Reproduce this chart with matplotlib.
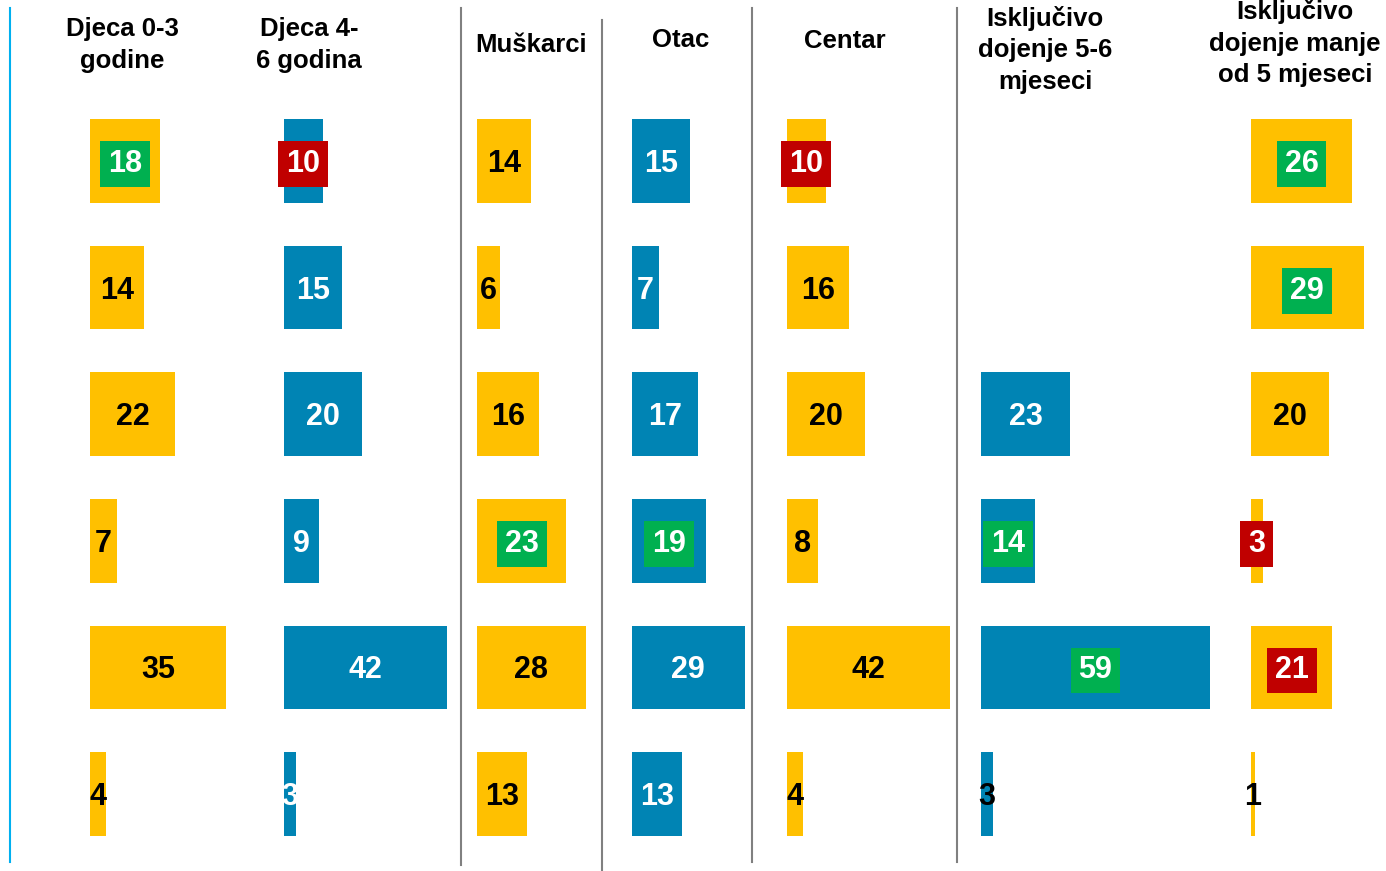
import numpy as np
import matplotlib
matplotlib.use('Agg')
import matplotlib.pyplot as plt
from matplotlib.lines import Line2D

# =========================
# DATA
# =========================
headers = [
    "Djeca 0-3\ngodine",
    "Djeca 4-\n6 godina",
    "Muškarci",
    "Otac",
    "Centar",
    "Isključivo\ndojenje 5-6\nmjeseci",
    "Isključivo\ndojenje manje\nod 5 mjeseci",
]
djeca_0_3 = [18, 14, 22, 7, 35, 4]
djeca_4_6 = [10, 15, 20, 9, 42, 3]
muskarci = [14, 6, 16, 23, 28, 13]
otac = [15, 7, 17, 19, 29, 13]
centar = [10, 16, 20, 8, 42, 4]
dojenje_5_6 = [np.nan, np.nan, 23, 14, 59, 3]
dojenje_manje_5 = [26, 29, 20, 3, 21, 1]

# highlighted labels: (column, row) -> box colour
green_marks = [(0, 0), (2, 3), (3, 3), (5, 3), (5, 4), (6, 0), (6, 1)]
red_marks = [(1, 0), (4, 0), (6, 3), (6, 4)]

# =========================
# STYLE / LAYOUT
# =========================
ORANGE = "#FFC000"
BLUE = "#0084B4"
GREEN = "#00B050"
RED = "#C00000"
FONT = "Liberation Sans"

W, H = 1386, 871
PX_PER_UNIT = 3.88
COL_W = 240

series = [djeca_0_3, djeca_4_6, muskarci, otac, centar, dojenje_5_6, dojenje_manje_5]
colors = [ORANGE, BLUE, ORANGE, BLUE, ORANGE, BLUE, ORANGE]
col_left = [90, 284, 477, 632, 787, 981, 1251]
head_pos = [(122, 45), (309, 45), (531, 45), (681, 40), (845, 41), (1045, 50), (1295, 43)]

fig = plt.figure(figsize=(W / 100, H / 100), dpi=100)
fig.patch.set_facecolor("white")

rows = np.arange(6)
row_step = 126.6
top_px = 161 - row_step / 2
bot_px = 794 + row_step / 2

for c, vals in enumerate(series):
    ax = fig.add_axes([col_left[c] / W, 1 - bot_px / H, COL_W / W, (bot_px - top_px) / H])
    ax.barh(rows, vals, height=0.66, color=colors[c])
    ax.set_xlim(0, COL_W / PX_PER_UNIT)
    ax.set_ylim(5.5, -0.5)
    ax.axis("off")
    for r, v in enumerate(vals):
        if np.isnan(v):
            continue
        bbox = None
        if colors[c] == ORANGE:
            tcol = "black"
        else:
            tcol = "white"
        if c == 5 and v < 5:
            tcol = "black"
        if (c, r) in green_marks:
            tcol = "white"
            bbox = dict(boxstyle="square,pad=0.26", fc=GREEN, ec="none")
        elif (c, r) in red_marks:
            tcol = "white"
            bbox = dict(boxstyle="square,pad=0.26", fc=RED, ec="none")
        ax.annotate(str(int(v)), (v / 2, r), xytext=(0, -2.2), textcoords="offset points",
                    ha="center", va="center", color=tcol, fontsize=22,
                    fontweight="bold", family=FONT, bbox=bbox, annotation_clip=False)

# column headers
for c, txt in enumerate(headers):
    x, y = head_pos[c]
    fig.text(x / W, 1 - y / H, txt, ha="center", va="center", fontsize=18.5,
             fontweight="bold", family=FONT, linespacing=1.4)

# separator lines
fig.add_artist(Line2D([10 / W, 10 / W], [1 - 8 / H, 1 - 862 / H], color="#00B0F0", lw=1.5))
for x, y0, y1 in [(461, 8, 865), (602, 20, 871), (752, 8, 862), (957, 8, 862)]:
    fig.add_artist(Line2D([x / W, x / W], [1 - y0 / H, 1 - y1 / H], color="#808080", lw=1.5))

fig.savefig("out.png", dpi=100)
